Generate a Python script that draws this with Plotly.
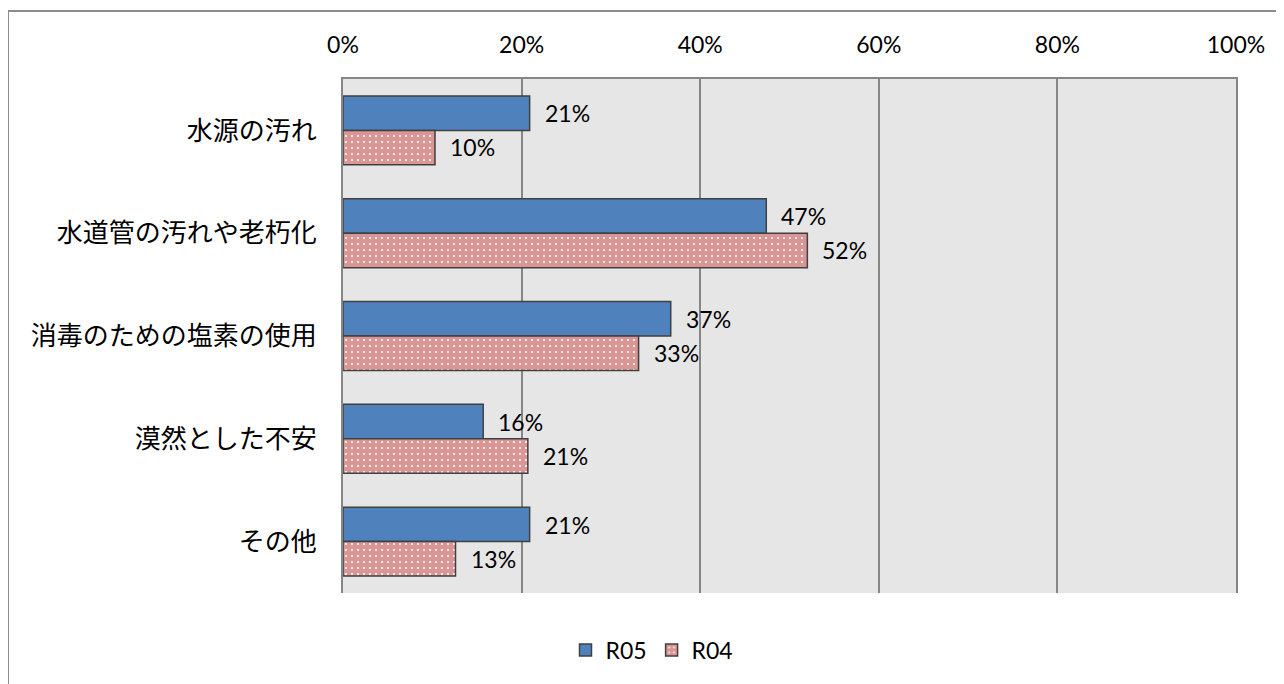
import plotly.graph_objects as go

categories = ["水源の汚れ", "水道管の汚れや老朽化", "消毒のための塩素の使用", "漠然とした不安", "その他"]
r05_values = [20.9, 47.4, 36.7, 15.7, 20.9]
r04_values = [10.3, 52.0, 33.1, 20.7, 12.6]
series_names = ["R05", "R04"]
x_tickvals = [0, 20, 40, 60, 80, 100]
x_ticktext = ["0%", "20%", "40%", "60%", "80%", "100%"]

W, H = 1284, 684
OFF = 8  # page body margin offset
ML, MT = 343 - OFF, 79 - OFF
MR, MB = 1284 - 1236 + OFF, 684 - 593 + OFF
pw, ph = W - ML - MR, H - MT - MB

num_font = "Lato, 'Open Sans', sans-serif"
jp_font = "'Noto Sans CJK JP', sans-serif"

fig = go.Figure()
fig.add_trace(go.Bar(
    y=categories, x=r05_values, name=series_names[0], orientation="h",
    marker=dict(color="#4f81bd", line=dict(color="#404040", width=1.5)),
))
fig.add_trace(go.Bar(
    y=categories, x=r04_values, name=series_names[1], orientation="h",
    marker=dict(color="#d99694", line=dict(color="#404040", width=1.5),
                pattern=dict(shape=".", fgcolor="white", bgcolor="#d99694",
                             size=6, solidity=0.1, fillmode="replace")),
))

# data labels
for vals, shift in ((r05_values, 17), (r04_values, -17)):
    for c, v in zip(categories, vals):
        fig.add_annotation(x=v, y=c, xref="x", yref="y", text=f"{round(v)}%",
                           showarrow=False, xanchor="left", yanchor="middle",
                           xshift=13, yshift=shift,
                           font=dict(family=num_font, size=23, color="black"))

# outer chart border (figure pixel coords -> paper)
def px2x(p):
    return (p - OFF - ML) / pw
def py2y(p):
    return (H - MB - (p - OFF)) / ph

fig.add_shape(type="rect", xref="paper", yref="paper",
              x0=px2x(8), x1=px2x(1300), y0=py2y(700), y1=py2y(11),
              line=dict(color="#8c8c8c", width=2), fillcolor="rgba(0,0,0,0)", layer="below")

fig.update_layout(
    width=W, height=H,
    margin=dict(l=ML, r=MR, t=MT, b=MB),
    paper_bgcolor="white", plot_bgcolor="#e6e6e6",
    barmode="group", bargap=0.33, bargroupgap=0,
    showlegend=True,
    legend=dict(orientation="h", x=px2x(652), xanchor="center", y=py2y(650), yanchor="middle",
                font=dict(family=num_font, size=23, color="black"), traceorder="normal"),
    xaxis=dict(side="top", range=[0, 100], tickvals=x_tickvals, ticktext=x_ticktext,
               showgrid=True, gridcolor="#868686", gridwidth=1.5,
               showline=True, linecolor="#868686", linewidth=2, zeroline=False,
               ticks="", ticklabelstandoff=15,
               tickfont=dict(family=num_font, size=23, color="black")),
    yaxis=dict(autorange="reversed", showgrid=False, showline=True, mirror=True,
               linecolor="#868686", linewidth=2, ticks="", ticklabelstandoff=19,
               tickfont=dict(family=jp_font, size=26, color="black")),
)

fig.write_html("out.html")
